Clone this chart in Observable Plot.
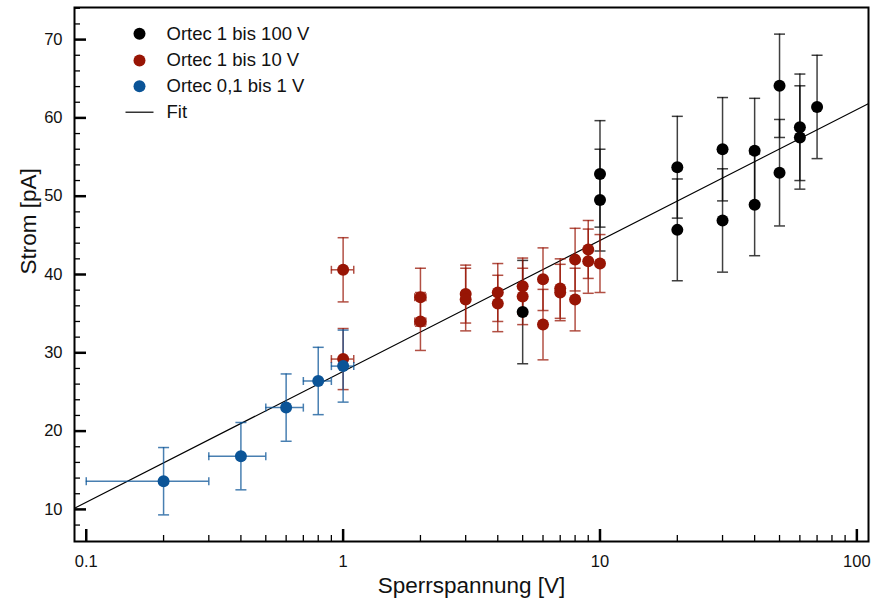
<!DOCTYPE html>
<html><head><meta charset="utf-8">
<script src="https://cdn.jsdelivr.net/npm/d3@7"></script>
<script src="https://cdn.jsdelivr.net/npm/@observablehq/plot@0.6"></script>
<style>
html,body{margin:0;padding:0;background:#fff;}
#chart svg{display:block;font-family:Helvetica,Arial,"Liberation Sans",sans-serif;}
</style>
</head><body><div id="chart"></div>
<script>
// ---- data ----
const seriesNames = ["Ortec 1 bis 100 V", "Ortec 1 bis 10 V", "Ortec 0,1 bis 1 V"];
const seriesColors = ["#000000", "#981505", "#0b5497"];

const blackX = [5, 10, 10, 20, 20, 30, 30, 40, 40, 50, 50, 60, 60, 70];
const blackY = [35.2, 52.85, 49.5, 53.7, 45.7, 56.0, 46.9, 55.8, 48.9, 64.1, 53.0, 58.8, 57.5, 61.4];
const blackErr = [6.6, 6.8, 6.5, 6.5, 6.5, 6.6, 6.6, 6.7, 6.5, 6.6, 6.8, 6.8, 6.6, 6.6];

const redX = [1, 1, 2, 2, 3, 3, 4, 4, 5, 5, 6, 6, 7, 7, 8, 8, 9, 9, 10];
const redY = [40.6, 29.2, 37.1, 34.0, 37.5, 36.8, 37.7, 36.3, 38.5, 37.2, 39.4, 33.6, 38.2, 37.7, 41.9, 36.8, 43.2, 41.7, 41.4];
const redErr = [4.1, 3.9, 3.7, 3.7, 3.7, 4.0, 3.7, 3.6, 3.6, 3.6, 4.0, 4.5, 3.8, 3.6, 4.0, 4.0, 3.7, 4.1, 3.7];
const redXErr = 0.1;

const blueX = [0.2, 0.4, 0.6, 0.8, 1.0];
const blueY = [13.6, 16.8, 23.0, 26.4, 28.3];
const blueErr = [4.3, 4.3, 4.3, 4.3, 4.6];
const blueXErr = 0.1;

const fitX = [0.09, 111];
const fitY = [10.14, 61.83];

const xTickValues = [0.1, 1, 10, 100];
const xTickLabels = ["0.1", "1", "10", "100"];
const yTickValues = [10, 20, 30, 40, 50, 60, 70];
const yTickLabels = ["10", "20", "30", "40", "50", "60", "70"];

const xLabel = "Sperrspannung [V]";
const yLabel = "Strom [pA]";

// ---- layout ----
const W = 872, H = 604, mL = 74, mR = 4, mT = 7, mB = 63;
const xDomain = [0.09, 111], yDomain = [5.9, 74.1];
const pxPerY = (H - mT - mB) / (yDomain[1] - yDomain[0]);
const pxPerDec = (W - mL - mR) / Math.log10(xDomain[1] / xDomain[0]);
const FONT = 'Helvetica, Arial, "Liberation Sans", sans-serif';

const mk = (xs, ys, es, xe, s) => xs.map((x, i) => ({x, y: ys[i], e: es[i], xe: xe, s}));
const black = mk(blackX, blackY, blackErr, 0, 0);
const red = mk(redX, redY, redErr, redXErr, 1);
const blue = mk(blueX, blueY, blueErr, blueXErr, 2);
const fit = fitX.map((x, i) => ({x, y: fitY[i]}));

const hcap = {draw(ctx, size) { const r = Math.sqrt(size / Math.PI); ctx.moveTo(-r, 0); ctx.lineTo(r, 0); }};
const vcap = {draw(ctx, size) { const r = Math.sqrt(size / Math.PI); ctx.moveTo(0, -r); ctx.lineTo(0, r); }};

const xMinor = [];
for (const dec of [0.1, 1, 10]) for (let k = 2; k <= 9; k++) xMinor.push(+(k * dec).toPrecision(3));
const yMinor = [];
for (let v = 8; v <= 74; v += 2) if (v % 10 !== 0) yMinor.push(v);

function errMarks(data, color) {
  const withX = data.filter(d => d.xe > 0);
  return [
    Plot.ruleX(data, {x: "x", y1: d => d.y - d.e, y2: d => d.y + d.e, stroke: color, strokeWidth: 1.5, strokeOpacity: 0.75}),
    Plot.dot(data, {x: "x", y: d => d.y + d.e, symbol: hcap, r: 5.5, stroke: color, fill: "none", strokeWidth: 1.5, strokeOpacity: 0.75}),
    Plot.dot(data, {x: "x", y: d => d.y - d.e, symbol: hcap, r: 5.5, stroke: color, fill: "none", strokeWidth: 1.5, strokeOpacity: 0.75}),
    Plot.ruleY(withX, {y: "y", x1: d => d.x - d.xe, x2: d => d.x + d.xe, stroke: color, strokeWidth: 1.5, strokeOpacity: 0.75}),
    Plot.dot(withX, {x: d => d.x - d.xe, y: "y", symbol: vcap, r: 4, stroke: color, fill: "none", strokeWidth: 1.5, strokeOpacity: 0.75}),
    Plot.dot(withX, {x: d => d.x + d.xe, y: "y", symbol: vcap, r: 4, stroke: color, fill: "none", strokeWidth: 1.5, strokeOpacity: 0.75})
  ];
}

const legendRows = [26.3, 53, 78.7];
const legendMarks = [];
seriesNames.forEach((name, i) => {
  legendMarks.push(Plot.dot([name], {frameAnchor: "top-left", dx: 65, dy: legendRows[i], r: 6, fill: seriesColors[i], stroke: "none"}));
  legendMarks.push(Plot.text([name], {frameAnchor: "top-left", dx: 92, dy: legendRows[i], text: d => d, textAnchor: "start", lineAnchor: "middle", fontSize: 18.5, fill: "#111"}));
});
legendMarks.push(Plot.dot(["Fit"], {frameAnchor: "top-left", dx: 65, dy: 104.7, r: 14, symbol: hcap, stroke: "#000", fill: "none", strokeWidth: 1.2}));
legendMarks.push(Plot.text(["Fit"], {frameAnchor: "top-left", dx: 92, dy: 104.7, text: d => d, textAnchor: "start", lineAnchor: "middle", fontSize: 18.5, fill: "#111"}));

const chart = Plot.plot({
  width: W, height: H,
  marginLeft: mL, marginRight: mR, marginTop: mT, marginBottom: mB,
  style: {fontFamily: FONT, background: "#fff"},
  x: {type: "log", domain: xDomain, axis: null},
  y: {domain: yDomain, axis: null},
  marks: [
    // fit line
    Plot.line(fit, {x: "x", y: "y", stroke: "#000", strokeWidth: 1.2, clip: true}),
    // error bars
    ...errMarks(black, seriesColors[0]),
    ...errMarks(red, seriesColors[1]),
    ...errMarks(blue, seriesColors[2]),
    // points
    Plot.dot(red, {x: "x", y: "y", r: 6, fill: seriesColors[1], stroke: "none"}),
    Plot.dot(black, {x: "x", y: "y", r: 6, fill: seriesColors[0], stroke: "none"}),
    Plot.dot(blue, {x: "x", y: "y", r: 6, fill: seriesColors[2], stroke: "none"}),
    // inward ticks
    Plot.ruleX(xTickValues, {x: d => d, y1: yDomain[0], y2: yDomain[0] + 12 / pxPerY, stroke: "#000", strokeWidth: 2.5}),
    Plot.ruleX(xMinor, {x: d => d, y1: yDomain[0], y2: yDomain[0] + 6 / pxPerY, stroke: "#000", strokeWidth: 1.3}),
    Plot.ruleY(yTickValues, {y: d => d, x1: xDomain[0], x2: xDomain[0] * Math.pow(10, 12 / pxPerDec), stroke: "#000", strokeWidth: 2.5}),
    Plot.ruleY(yMinor, {y: d => d, x1: xDomain[0], x2: xDomain[0] * Math.pow(10, 6 / pxPerDec), stroke: "#000", strokeWidth: 1.3}),
    // tick labels
    Plot.text(xTickValues, {x: d => d, frameAnchor: "bottom", dy: 20, text: (d, i) => xTickLabels[i], lineAnchor: "middle", fontSize: 16.5, fill: "#111"}),
    Plot.text(yTickValues, {y: d => d, frameAnchor: "left", dx: -12, text: (d, i) => yTickLabels[i], textAnchor: "end", lineAnchor: "middle", fontSize: 16.5, fill: "#111"}),
    // axis labels
    Plot.text([xLabel], {frameAnchor: "bottom", dy: 44, text: d => d, lineAnchor: "middle", fontSize: 22.5, fill: "#111"}),
    Plot.text([yLabel], {frameAnchor: "left", dx: -45.5, rotate: -90, text: d => d, lineAnchor: "middle", fontSize: 22.5, fill: "#111"}),
    // legend
    ...legendMarks,
    // frame
    Plot.frame({stroke: "#000", strokeWidth: 2})
  ]
});
document.getElementById("chart").appendChild(chart);
</script>
</body></html>
